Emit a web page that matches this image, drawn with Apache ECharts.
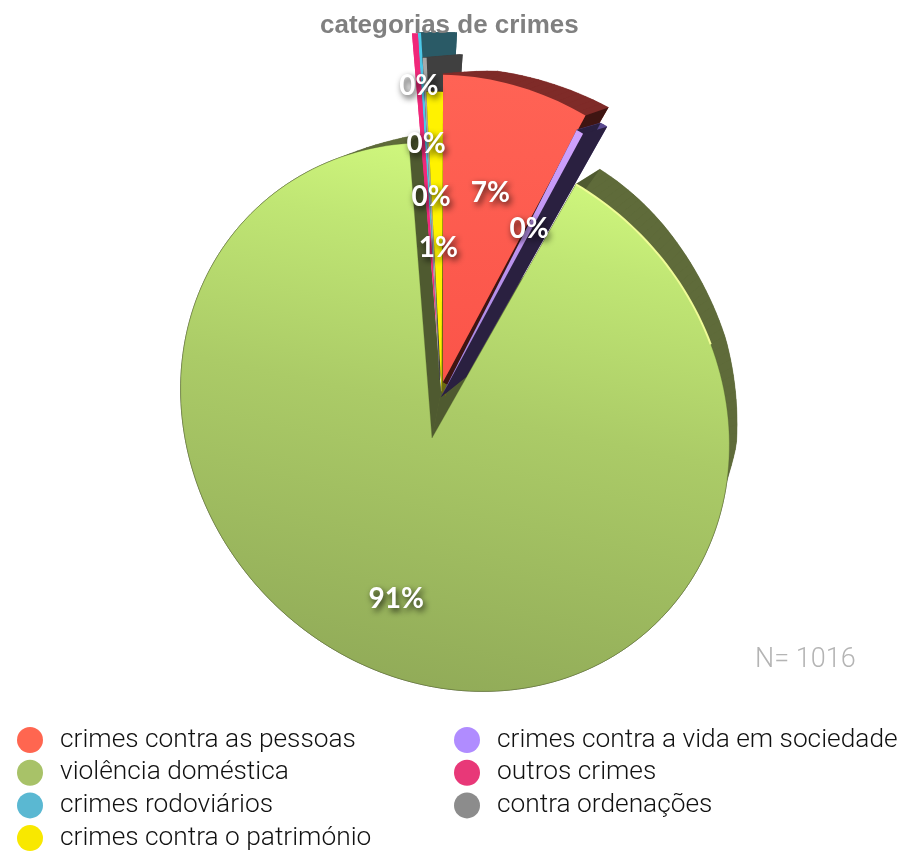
<!DOCTYPE html>
<html>
<head>
<meta charset="utf-8">
<style>html,body{margin:0;padding:0;background:#fff}#main{width:905px;height:853px}</style>
<script src="https://cdn.jsdelivr.net/npm/echarts@6/dist/echarts.min.js"></script>
</head>
<body>
<div id="main"></div>
<script>
// slices in clockwise order, starting from the red one
var categories = ['crimes contra as pessoas', 'crimes contra a vida em sociedade', 'violência doméstica', 'outros crimes', 'crimes rodoviários', 'contra ordenações', 'crimes contra o património'];
var values = [76, 4, 920, 3, 2, 2, 9];
var legendLeft = ['crimes contra as pessoas', 'violência doméstica', 'crimes rodoviários', 'crimes contra o património'];
var legendRight = ['crimes contra a vida em sociedade', 'outros crimes', 'contra ordenações'];
var chartTitle = 'categorias de crimes';

// the look of the tilted, exploded 3d pie: one entry per slice
// wall: how far the back face sits from the front face, [fraction along the arc, dx, dy]
var ELLIPSE = {a: 288, b: 260, rot: 45 * Math.PI / 180};
var looks = [
  {color: '#ff5c50', legend: '#ff6650', side: '#3f1512', arc: '#7f2b28', z: 7, turn: [0, 1.2], apex: [443, 382], c: [466, 349], bApex: [448, 385], wall: [[0, 0, -1], [0.25, 15, -7], [1, 23, -8]], labelDist: 195},
  {color: '#c497fb', legend: '#b08cff', side: '#2a2040', arc: '#5b4a90', z: 8, turn: [0, 0], apex: [441, 397], c: [465, 368], bApex: [466, 377], wall: [[0, 24, -7], [1, 24, -7]], labelDist: 190},
  {color: '#a9c464', legend: '#a8c268', side: '#4f5a30', arc: '#5f6b3a', z: 1, turn: [1.2, 1.2], apex: [432, 438], c: [455, 417], bApex: [441, 392], wall: [[0, 24, -15], [0.063, 16, -16], [0.13, 14, -8], [0.19, 7, -1], [0.21, 0, 0], [0.96, 0, 0], [1, 12, -9]], labelDist: 165},
  {color: '#f0287a', legend: '#e83878', side: '#f0287a', arc: '#f0287a', z: 3, turn: [0.9, 0.9], apex: [438, 345], c: [438, 308], bApex: [438, 345], wall: [[0, 0, 0], [1, 0, 0]], labelDist: 260},
  {color: '#4cc8e8', legend: '#5ab8d2', side: '#2a5a66', arc: '#2a5a66', z: 2, turn: [0.6, 0.6], apex: [439, 345], c: [443, 307], bApex: [440, 345], wall: [[0, 36, 0], [1, 36, 0]], labelDist: 201},
  {color: '#a8a8a8', legend: '#8c8c8c', side: '#404040', arc: '#404040', z: 4, turn: [0.9, 0.9], apex: [439.5, 380], c: [448, 332], bApex: [440, 380], wall: [[0, 36, -3], [1, 36, -3]], labelDist: 183},
  {color: '#fff200', legend: '#f8e800', side: '#6b6a10', arc: '#6b6a10', z: 5, turn: [0.3, 0.3], apex: [441.5, 392], c: [457, 366], bApex: [446, 396], wall: [[0, 2, 0], [1, 2, 0]], labelDist: 144}
];

var total = values.reduce(function (s, v) { return s + v; }, 0);

// where each slice starts and ends, in degrees clockwise from 12 o'clock
var angles = [];
var acc = 0;
values.forEach(function (v, i) {
  var from = acc / total * 360;
  acc += v;
  angles.push([from + looks[i].turn[0], acc / total * 360 + looks[i].turn[1]]);
});

// walk from the apex along the ray until it leaves the ellipse
function rim(apex, c, deg) {
  var t = deg * Math.PI / 180;
  var dx = Math.sin(t), dy = -Math.cos(t);
  var co = Math.cos(ELLIPSE.rot), si = Math.sin(ELLIPSE.rot);
  var px = ((apex[0] - c[0]) * co + (apex[1] - c[1]) * si) / ELLIPSE.a;
  var py = (-(apex[0] - c[0]) * si + (apex[1] - c[1]) * co) / ELLIPSE.b;
  var qx = (dx * co + dy * si) / ELLIPSE.a;
  var qy = (-dx * si + dy * co) / ELLIPSE.b;
  var A = qx * qx + qy * qy, B = 2 * (px * qx + py * qy), C = px * px + py * py - 1;
  var r = (-B + Math.sqrt(B * B - 4 * A * C)) / (2 * A);
  return [apex[0] + dx * r, apex[1] + dy * r];
}

function wallOffset(wall, f) {
  for (var i = 1; i < wall.length; i++) {
    if (f <= wall[i][0]) {
      var k = (f - wall[i - 1][0]) / (wall[i][0] - wall[i - 1][0]);
      return [wall[i - 1][1] + (wall[i][1] - wall[i - 1][1]) * k, wall[i - 1][2] + (wall[i][2] - wall[i - 1][2]) * k];
    }
  }
  return [wall[wall.length - 1][1], wall[wall.length - 1][2]];
}

function polygon(points, fill, extra) {
  var style = {fill: fill};
  if (extra) { for (var k in extra) style[k] = extra[k]; }
  return {type: 'polygon', shape: {points: points}, style: style, silent: true};
}

function sliceItem(i) {
  var look = looks[i];
  var from = angles[i][0], to = angles[i][1];
  var steps = Math.max(2, Math.ceil((to - from) / 1.5));
  var front = [], back = [];
  for (var s = 0; s <= steps; s++) {
    var f = s / steps;
    var p = rim(look.apex, look.c, from + (to - from) * f);
    var off = wallOffset(look.wall, f);
    front.push(p);
    back.push([p[0] + off[0], p[1] + off[1]]);
  }
  var children = [];
  children.push(polygon([look.bApex].concat(back), look.arc));
  for (var j = 0; j < steps; j++) {
    children.push(polygon([front[j], front[j + 1], back[j + 1], back[j]], look.arc, {stroke: look.arc, lineWidth: 0.5}));
  }
  children.push(polygon([look.apex, front[0], back[0], look.bApex], look.side));
  children.push(polygon([look.apex, front[steps], back[steps], look.bApex], look.side));

  var fill = look.color;
  var extra = null;
  if (i === 2) {
    fill = new echarts.graphic.LinearGradient(0.66, 0, 0.45, 1, [
      {offset: 0, color: '#d4fc80'},
      {offset: 0.2, color: '#c0e674'},
      {offset: 0.5, color: '#abcb67'},
      {offset: 1, color: '#91ab58'}
    ]);
    extra = {stroke: 'rgba(75,95,40,0.3)', lineWidth: 1};
  } else if (i === 0) {
    fill = new echarts.graphic.LinearGradient(0, 0, 0, 1, [
      {offset: 0, color: '#ff6355'},
      {offset: 1, color: '#fb5449'}
    ]);
  } else if (i === 1) {
    fill = new echarts.graphic.LinearGradient(0, 0, 0, 1, [
      {offset: 0, color: '#cfa2ff'},
      {offset: 1, color: '#a583dc'}
    ]);
  }
  children.push(polygon([look.apex].concat(front), fill, extra));
  if (i === 2) {
    // pale rim where the light hits the upper right of the big slice
    children.push({
      type: 'polyline',
      silent: true,
      shape: {points: front.slice(0, Math.ceil(steps * 0.13))},
      style: {fill: null, stroke: '#f0fc96', lineWidth: 2}
    });
  }
  return {type: 'group', children: children};
}

function labelItem(params) {
  var i = params.dataIndex;
  var look = looks[i];
  var t = (angles[i][0] + angles[i][1]) / 2 * Math.PI / 180;
  return {
    type: 'text',
    silent: true,
    x: look.apex[0] + Math.sin(t) * look.labelDist,
    y: look.apex[1] - Math.cos(t) * look.labelDist,
    style: {
      text: Math.round(values[i] / total * 100) + '%',
      fill: '#fff',
      font: 'bold 28px Lato, "Noto Sans", sans-serif',
      align: 'center',
      verticalAlign: 'middle',
      textShadowColor: 'rgba(0,0,0,0.8)',
      textShadowBlur: 6,
      textShadowOffsetX: 2,
      textShadowOffsetY: 3
    }
  };
}

var series = categories.map(function (name, i) {
  return {
    type: 'custom',
    name: name,
    coordinateSystem: 'none',
    silent: true,
    animation: false,
    z: looks[i].z + 2,
    itemStyle: {color: looks[i].legend},
    data: [[values[i]]],
    renderItem: function () { return sliceItem(i); }
  };
});
series.push({
  type: 'custom',
  name: 'labels',
  coordinateSystem: 'none',
  silent: true,
  animation: false,
  z: 30,
  data: values.map(function (v) { return [v]; }),
  renderItem: labelItem
});

function legendAt(left, names) {
  return {
    left: left,
    top: 727,
    height: 126,
    padding: 0,
    orient: 'vertical',
    selectedMode: false,
    icon: 'circle',
    itemWidth: 50,
    itemHeight: 26,
    itemGap: 6.7,
    data: names,
    textStyle: {fontFamily: 'Roboto', fontWeight: 300, fontSize: 26.3, color: '#111'}
  };
}

var chart = echarts.init(document.getElementById('main'), null, {renderer: 'canvas'});
chart.setOption({
  animation: false,
  backgroundColor: '#fff',
  tooltip: {show: false},
  title: [
    {text: chartTitle, left: 315, top: 8, textStyle: {fontFamily: 'Liberation Sans', fontWeight: 'bold', fontSize: 26, color: '#808080'}},
    {text: 'N= ' + total, left: 750, top: 642, textStyle: {fontFamily: 'Roboto', fontWeight: 300, fontSize: 27, color: '#b4b4b4'}}
  ],
  legend: [legendAt(17, legendLeft), legendAt(454, legendRight)],
  series: series
});
</script>
</body>
</html>
